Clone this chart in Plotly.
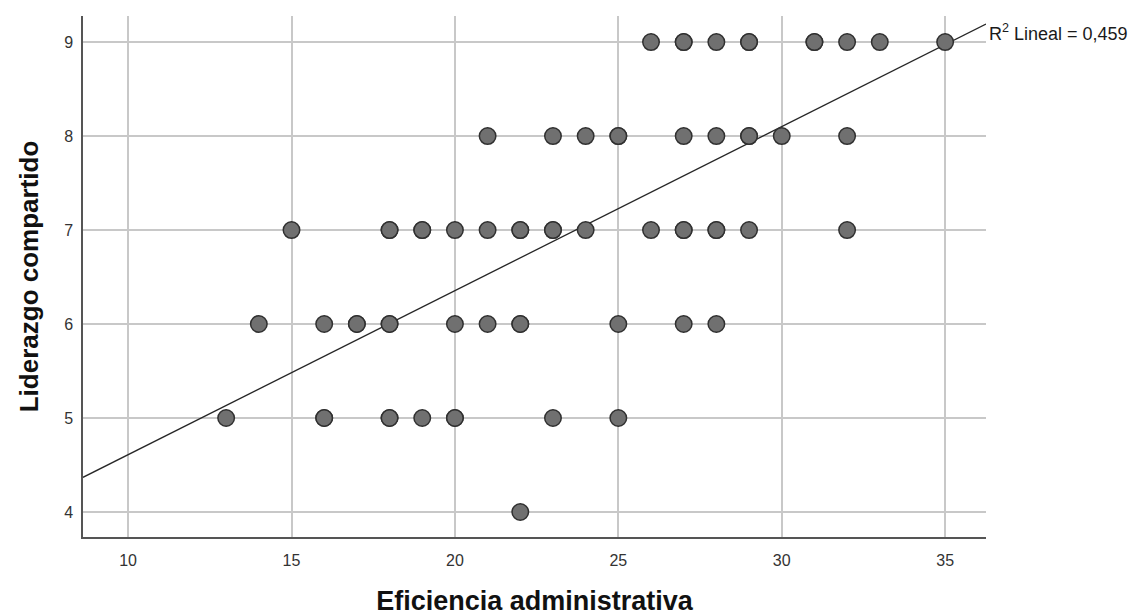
import plotly.graph_objects as go

# Data (repeated pairs are overlapping cases)
x_vals = [
    # y = 9
    26, 27, 27, 28, 29, 29, 31, 31, 32, 33, 35,
    # y = 8
    21, 23, 24, 25, 25, 27, 28, 29, 29, 30, 32,
    # y = 7
    15, 18, 18, 19, 19, 20, 21, 22, 22, 23, 23, 24, 26, 27, 27, 28, 28, 29, 32,
    # y = 6
    14, 16, 17, 17, 18, 18, 20, 21, 22, 22, 25, 27, 28,
    # y = 5
    13, 16, 16, 18, 18, 19, 20, 20, 23, 25,
    # y = 4
    22,
]
y_vals = (
    [9] * 11 +
    [8] * 11 +
    [7] * 19 +
    [6] * 13 +
    [5] * 10 +
    [4] * 1
)

fit_intercept = 2.865
fit_slope = 0.1745
r2_text = "R<sup>2</sup> Lineal = 0,459"

x_range = [8.62, 36.25]
y_range = [3.734, 9.277]
x_ticks = [10, 15, 20, 25, 30, 35]
y_ticks = [4, 5, 6, 7, 8, 9]

x_title = "Eficiencia administrativa"
y_title = "Liderazgo compartido"

fit_x = x_range
fit_y = [fit_intercept + fit_slope * v for v in fit_x]

FONT = "Liberation Sans, Arial, sans-serif"

fig = go.Figure()
fig.add_trace(go.Scatter(
    x=fit_x, y=fit_y, mode="lines",
    line=dict(color="#262626", width=1.3),
    hoverinfo="skip", showlegend=False, cliponaxis=False,
))
fig.add_trace(go.Scatter(
    x=x_vals, y=y_vals, mode="markers",
    marker=dict(size=16.5, color="#707070",
                line=dict(color="#303030", width=1.5)),
    showlegend=False,
))

fig.add_annotation(
    x=fit_x[1], y=fit_y[1], xref="x", yref="y",
    text=r2_text, showarrow=False, xanchor="left", yanchor="middle",
    xshift=1, yshift=-8,
    font=dict(family=FONT, size=18, color="#1a1a1a"),
)

axis_font = dict(family=FONT, size=16, color="#333333")

fig.update_layout(
    width=1136, height=616,
    margin=dict(l=83, r=150, t=16, b=79),
    paper_bgcolor="white", plot_bgcolor="white",
    font=axis_font,
    xaxis=dict(
        range=x_range, tickvals=x_ticks, ticks="", showgrid=True,
        gridcolor="#c8c8c8", gridwidth=1.5, zeroline=False,
        showline=True, linecolor="#555555", linewidth=1.5,
        tickfont=axis_font, ticklabelstandoff=8, automargin=False,
        title=dict(text="<b>" + x_title + "</b>", standoff=27,
                   font=dict(family=FONT, size=27, color="#111111")),
    ),
    yaxis=dict(
        range=y_range, tickvals=y_ticks, ticks="", showgrid=True,
        gridcolor="#c8c8c8", gridwidth=1.5, zeroline=False,
        showline=True, linecolor="#555555", linewidth=1.5,
        tickfont=axis_font, ticklabelstandoff=5, automargin=False,
        title=dict(text="<b>" + y_title + "</b>", standoff=18,
                   font=dict(family=FONT, size=26, color="#111111")),
    ),
)

fig.write_html("out.html")
